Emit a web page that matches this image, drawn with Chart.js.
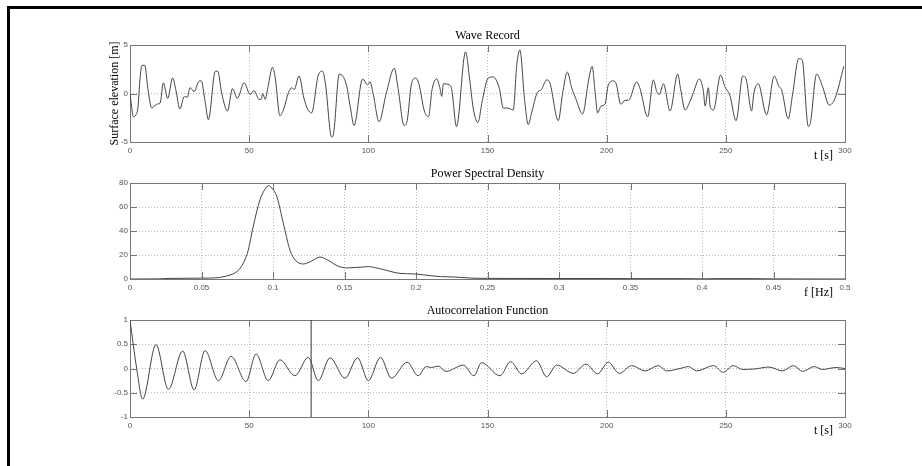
<!DOCTYPE html>
<html>
<head>
<meta charset="utf-8">
<script src="https://cdn.jsdelivr.net/npm/chart.js@4/dist/chart.umd.min.js"></script>
<style>
    html, body { margin: 0; padding: 0; background: #fff; }
    #page { position: relative; width: 922px; height: 466px; overflow: hidden; }
    #page canvas { position: absolute; left: 0; top: 0; }
    #frame { position: absolute; left: 7px; top: 6px; right: 0; bottom: 0; border-top: 3px solid #000; border-left: 3px solid #000; }
</style>
</head>
<body>
<div id="page">
    <div id="frame"></div>
    <canvas id="wave-chart" width="922" height="466"></canvas>
    <canvas id="psd-chart" width="922" height="466"></canvas>
    <canvas id="acf-chart" width="922" height="466"></canvas>
</div>
<script>
// wave record: time [s] and surface elevation [m]
const waveTime = [0, 0.6, 1.4, 2.5, 3.3, 4.2, 5.0, 6.2, 7.5, 9.1, 11.2, 12.6, 14.0, 15.8, 17.9, 19.3, 20.9, 22.8, 24.0, 25.2,
    26.9, 29.1, 29.9, 31.5, 32.9, 35.8, 36.8, 38.5, 40.9, 43.0, 45.0, 47.9, 50.4, 52.0, 53.0, 54.0, 55.0, 55.7, 56.7, 58.0,
    59.8, 61.0, 62.9, 64.5, 66.5, 67.9, 68.9, 70.9, 73.0, 74.5, 76.2, 79.0, 80.8, 82.0, 84.6, 85.5, 87.8, 90.8, 92.5, 94.0,
    97.6, 99.7, 100.7, 102.0, 104.5, 107.5, 110.9, 112.5, 115.0, 116.3, 118.1, 119.9, 121.3, 123.5, 125.2, 126.8, 128.7, 130.0, 130.8, 131.5,
    134.0, 135.0, 137.0, 140.8, 142.5, 144.0, 145.9, 148.0, 150.3, 152.4, 155.0, 156.6, 158.5, 160.8, 162.3, 163.6, 165.5, 167.1, 168.5, 170.9,
    172.6, 174.8, 176.0, 179.7, 181.5, 183.5, 185.3, 187.0, 189.9, 192.5, 193.9, 195.2, 196.2, 197.6, 199.3, 200.7, 202.8, 204.0, 205.9, 207.8,
    209.2, 212.6, 214.0, 217.2, 219.6, 221.0, 222.1, 223.8, 226.6, 229.8, 231.0, 232.9, 235.0, 236.4, 238.9, 240.6, 241.3, 242.7, 243.4, 244.8,
    247.8, 249.6, 251.7, 254.3, 257.1, 258.5, 260.8, 261.8, 263.6, 267.1, 270.3, 272.3, 273.4, 276.2, 278.0, 280.6, 282.0, 284.6, 285.5, 288.1,
    290.6, 293.4, 295.8, 299.5];
const waveElevation = [0.0, -1.2, -2.4, -2.2, -1.5, 1.5, 2.9, 2.9, 0.5, -1.5, -1.1, -1.0, 1.1, -0.5, 1.6, 0.3, -1.6, -0.3, -0.4, 0.6,
    0.2, 1.3, 1.3, -0.8, -2.7, 2.3, 2.3, 0.0, -1.8, 0.5, -0.5, 1.1, -0.1, 0.3, -0.1, -0.6, -0.6, 0.0, -0.6, 0.8,
    2.7, 1.5, -2.3, -1.6, 0.1, 0.6, 0.4, 1.8, -0.5, -1.6, -2.0, 1.9, 2.3, 1.0, -4.5, -4.0, 2.0, 0.9, -1.5, -3.3,
    1.5, 0.9, 1.2, 0.0, -2.9, 0.0, 2.6, 0.5, -3.3, -2.8, 1.0, 1.6, 0.9, -1.8, -2.4, 0.5, 1.5, 0.6, -0.3, 1.0,
    0.9, 0.4, -3.4, 4.3, 1.5, -1.5, -3.0, -0.5, 1.6, 1.7, 0.5, -1.5, -1.5, -1.7, 3.0, 4.5, -0.5, -3.2, -2.0, 0.1,
    0.4, 1.4, 1.2, -2.8, 0.0, 2.2, 0.6, -0.5, -2.1, 1.5, 2.8, 0.0, -2.0, -1.3, -1.1, 0.9, 1.3, 1.0, -1.1, -0.7,
    -0.7, 1.2, 0.5, -2.4, 1.4, 0.2, -0.1, 1.0, -1.8, 2.0, 0.5, -1.7, -0.8, 0.1, 1.5, 0.2, -1.3, 0.6, -1.3, -1.7,
    1.9, 0.7, -0.2, -2.8, 1.8, 1.5, -1.8, 0.1, 1.0, -2.2, 1.8, 0.7, 0.4, -2.6, -0.1, 3.6, 3.5, -3.4, -3.0, 2.0,
    0.7, -1.2, -0.5, 2.8];

// power spectral density
const psdFreq = [0, 0.02, 0.028, 0.04, 0.05, 0.06, 0.065, 0.07, 0.074, 0.077, 0.08, 0.0827, 0.0862, 0.0909, 0.094, 0.0967, 0.099,
    0.1026, 0.1072, 0.1119, 0.1154, 0.1212, 0.127, 0.1329, 0.138, 0.145, 0.152, 0.1667, 0.175, 0.1888, 0.1993, 0.2098, 0.217,
    0.226, 0.2378, 0.25, 0.3, 0.33, 0.36, 0.39, 0.40, 0.41, 0.435, 0.45, 0.5];
const psdValue = [0, 0.1, 0.5, 0.6, 0.7, 1.0, 1.8, 3.3, 5.5, 9, 15, 24, 44, 66, 74, 77.8, 76,
    69, 46.5, 24, 16, 12.5, 15, 18.3, 16, 11, 9.2, 10.3, 8.5, 4.7, 4.2, 2.8, 2.0,
    1.7, 0.8, 0.5, 0.4, 0.4, 0.3, 0.3, 0.1, 0.3, 0.3, 0.1, 0];

// autocorrelation function
const acfLag = [0, 2.8, 5.3, 10.9, 16.1, 22.1, 26.9, 31.5, 37.1, 42.4, 48.7, 52.9, 58.0, 62.9, 69.2, 74.8, 79.0, 83.9, 90.2, 95.5,
    100.0, 105.1, 109.7, 116.3, 120.9, 124.3, 126.5, 129.3, 132.6, 139.9, 144.3, 147.5, 155.2, 159.7, 164.3, 170.6, 174.8, 179.0, 186.0, 191.3,
    196.2, 200.7, 205.3, 210.5, 216.1, 221.7, 225.2, 230.8, 234.3, 237.8, 244.8, 249.0, 253.1, 257.0, 262.0, 268.1, 273.7, 278.4, 282.2, 287.1,
    290.5, 296.2, 300];
const acfValue = [1.0, 0.0, -0.63, 0.49, -0.43, 0.36, -0.44, 0.37, -0.25, 0.25, -0.27, 0.30, -0.25, 0.18, -0.15, 0.23, -0.25, 0.22, -0.20, 0.22,
    -0.25, 0.23, -0.20, 0.13, -0.15, 0.04, 0.02, 0.05, -0.06, 0.07, -0.15, 0.12, -0.15, 0.14, -0.11, 0.16, -0.17, 0.07, -0.10, 0.09,
    -0.11, 0.13, -0.10, 0.06, -0.05, 0.06, -0.05, 0.0, 0.04, -0.05, 0.06, -0.08, 0.06, -0.02, -0.01, 0.03, -0.05, 0.06, -0.06, 0.04,
    -0.02, 0.02, 0.0];
const acfMarkerLag = 76;

const tickFont = { family: 'Liberation Sans', size: 8 };
const serifFont = '12px "Liberation Serif"';

function toPoints(xs, ys) {
    return xs.map(function(x, i) { return { x: x, y: ys[i] }; });
}

function tickText(value) {
    return String(Math.round(value * 1000) / 1000);
}

// box, inner tick marks and texts the MATLAB way
const axesBox = {
    id: 'axesBox',
    beforeDatasetsDraw(chart) {
        const ctx = chart.ctx;
        const a = chart.chartArea;
        ctx.save();
        ctx.strokeStyle = '#777';
        ctx.lineWidth = 1;
        ctx.strokeRect(a.left + 0.5, a.top + 0.5, a.width, a.height);
        ctx.beginPath();
        chart.scales.x.ticks.forEach(function(t) {
            const px = Math.round(chart.scales.x.getPixelForValue(t.value)) + 0.5;
            ctx.moveTo(px, a.top); ctx.lineTo(px, a.top + 7);
            ctx.moveTo(px, a.bottom); ctx.lineTo(px, a.bottom - 7);
        });
        chart.scales.y.ticks.forEach(function(t) {
            const py = Math.round(chart.scales.y.getPixelForValue(t.value)) + 0.5;
            ctx.moveTo(a.left, py); ctx.lineTo(a.left + 7, py);
            ctx.moveTo(a.right, py); ctx.lineTo(a.right - 7, py);
        });
        ctx.stroke();
        ctx.restore();
    },
    afterDraw(chart, args, opts) {
        const ctx = chart.ctx;
        const a = chart.chartArea;
        ctx.save();
        ctx.fillStyle = '#000';
        ctx.font = serifFont;
        ctx.textBaseline = 'middle';
        ctx.textAlign = 'center';
        ctx.fillText(opts.title, (a.left + a.right) / 2, a.top - 9);
        ctx.textAlign = 'right';
        ctx.fillText(opts.xlabel, a.right - 12, a.bottom + 14);
        if (opts.ylabel) {
            ctx.translate(a.left - 15, (a.top + a.bottom) / 2);
            ctx.rotate(-Math.PI / 2);
            ctx.textAlign = 'center';
            ctx.fillText(opts.ylabel, 0, 0);
        }
        ctx.restore();
    }
};

function getChartConfig(datasets, xRange, yRange, top, bottom, texts) {
    return {
        type: 'line',
        data: { datasets: datasets },
        options: {
            responsive: false,
            animation: false,
            devicePixelRatio: 1,
            layout: { padding: { left: 110, right: 77, top: top, bottom: 466 - bottom - 12 } },
            elements: { point: { radius: 0 } },
            scales: {
                x: {
                    type: 'linear',
                    min: xRange[0], max: xRange[1],
                    afterFit: function(scale) { scale.height = 12; },
                    ticks: { stepSize: xRange[2], autoSkip: false, maxRotation: 0, padding: 4, font: tickFont, color: '#555', callback: tickText },
                    grid: { color: '#b8b8b8', drawTicks: false },
                    border: { display: false, dash: [1, 2] }
                },
                y: {
                    min: yRange[0], max: yRange[1],
                    afterFit: function(scale) { scale.width = 20; },
                    ticks: { stepSize: yRange[2], padding: 2, font: tickFont, color: '#555', callback: tickText },
                    grid: { color: '#b8b8b8', drawTicks: false },
                    border: { display: false, dash: [1, 2] }
                }
            },
            plugins: {
                legend: { display: false },
                tooltip: { enabled: false },
                axesBox: texts
            }
        },
        plugins: [axesBox]
    };
}

function lineSet(points, mode) {
    return {
        data: points,
        borderColor: '#444',
        borderWidth: 1,
        cubicInterpolationMode: mode,
        tension: 0.4
    };
}

new Chart(document.getElementById('wave-chart'), getChartConfig(
    [lineSet(toPoints(waveTime, waveElevation), 'monotone')],
    [0, 300, 50], [-5, 5, 5], 45, 142,
    { title: 'Wave Record', xlabel: 't [s]', ylabel: 'Surface elevation [m]' }
));

new Chart(document.getElementById('psd-chart'), getChartConfig(
    [lineSet(toPoints(psdFreq, psdValue), 'monotone')],
    [0, 0.5, 0.05], [0, 80, 20], 183, 279,
    { title: 'Power Spectral Density', xlabel: 'f [Hz]' }
));

new Chart(document.getElementById('acf-chart'), getChartConfig(
    [
        lineSet(toPoints(acfLag, acfValue), 'monotone'),
        { data: [{ x: acfMarkerLag, y: -1 }, { x: acfMarkerLag, y: 1 }], borderColor: '#333', borderWidth: 1 }
    ],
    [0, 300, 50], [-1, 1, 0.5], 320, 417,
    { title: 'Autocorrelation Function', xlabel: 't [s]' }
));
</script>
</body>
</html>
